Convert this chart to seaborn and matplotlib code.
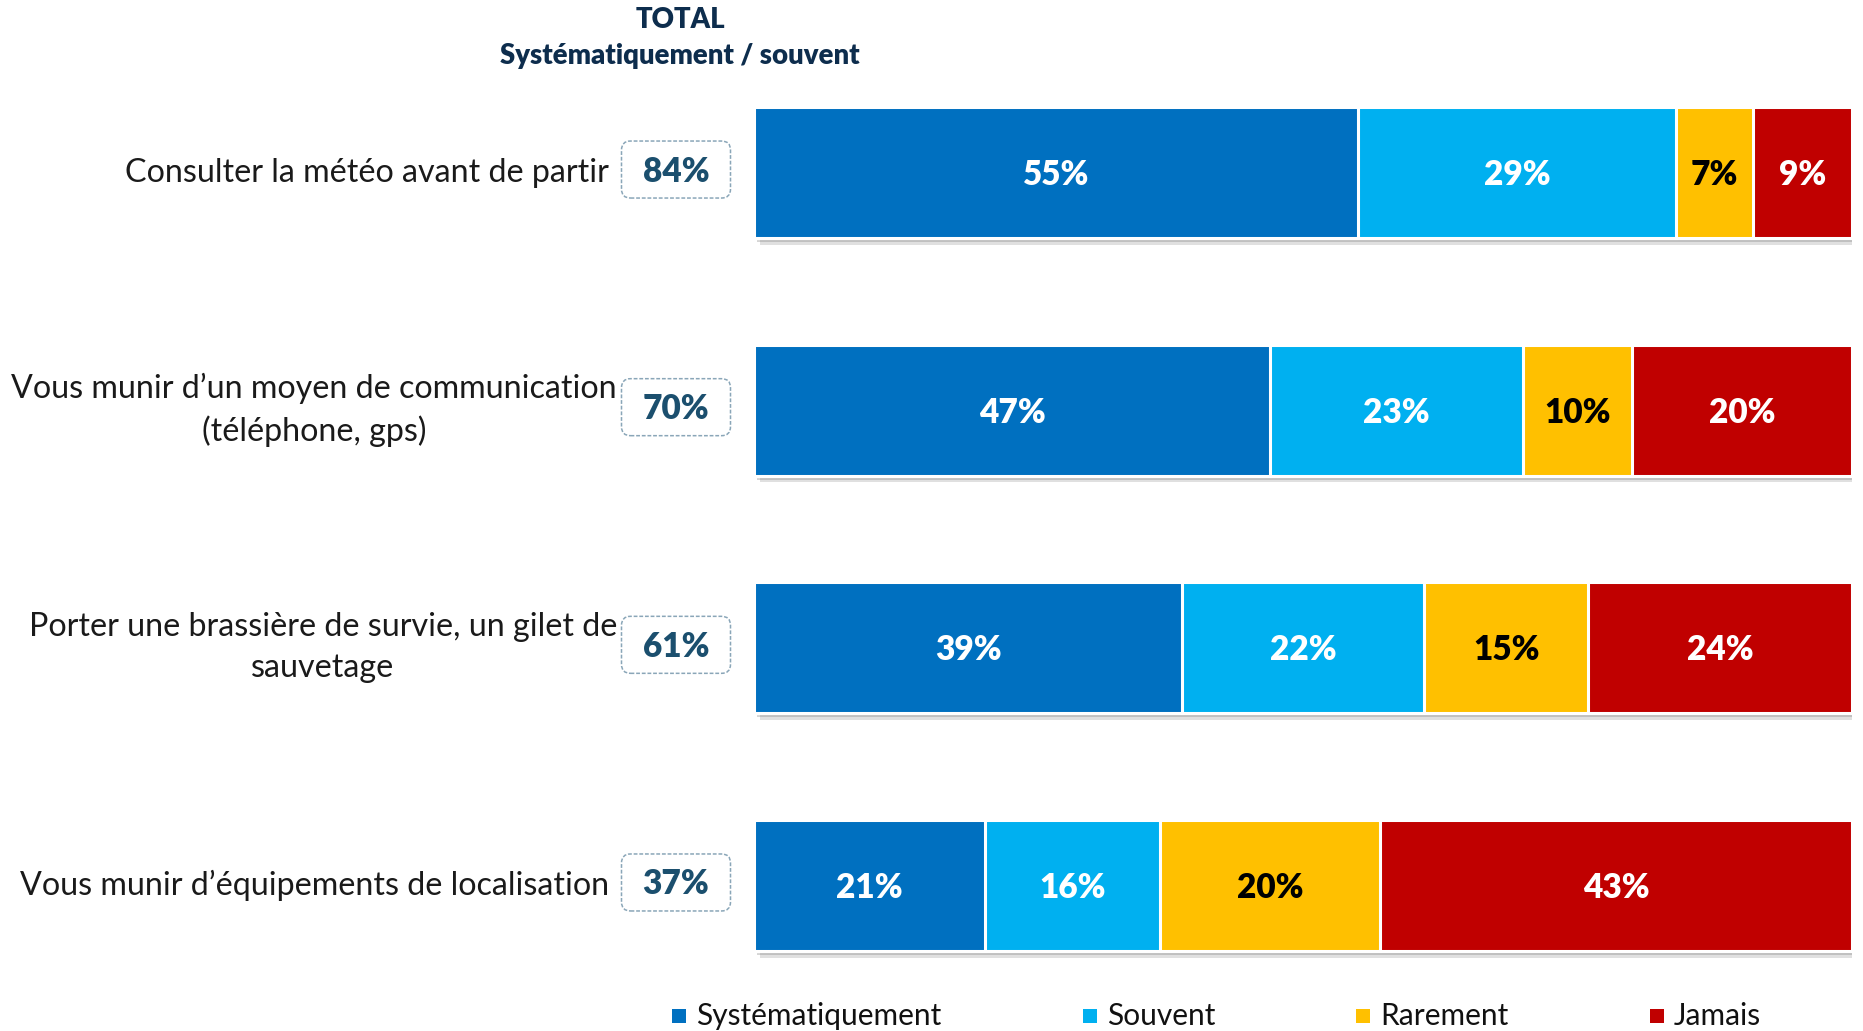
import matplotlib
matplotlib.use("Agg")
import matplotlib.pyplot as plt
import matplotlib.patheffects as pe
from matplotlib.patches import FancyBboxPatch, Rectangle
from matplotlib.transforms import blended_transform_factory, IdentityTransform
import seaborn as sns
import pandas as pd
import numpy as np

# ---- data ----
categories = [
    "Consulter la météo avant de partir",
    "Vous munir d’un moyen de communication\n(téléphone, gps)",
    "Porter une brassière de survie, un gilet de\nsauvetage",
    "Vous munir d’équipements de localisation",
]
series_names = ["Systématiquement", "Souvent", "Rarement", "Jamais"]
systematiquement = [55, 47, 39, 21]
souvent = [29, 23, 22, 16]
rarement = [7, 10, 15, 20]
jamais = [9, 20, 24, 43]
totals = ["84%", "70%", "61%", "37%"]

colors = ["#0070C0", "#00B0F0", "#FFC000", "#C00000"]
label_colors = ["white", "white", "black", "white"]

sns.set_theme(style="white")
plt.rcParams["font.family"] = ["Lato", "DejaVu Sans"]

W, H = 1863, 1031
fig = plt.figure(figsize=(W / 100, H / 100), dpi=100)
ax = fig.add_axes([754 / W, 0.0259, 1098 / W, 0.922])

series = [systematiquement, souvent, rarement, jamais]
cum = np.cumsum(np.array(series), axis=0)  # 4 x n

# draw from outermost cumulative to innermost
for k in range(3, -1, -1):
    df = pd.DataFrame({"cat": categories, "val": cum[k]})
    sns.barplot(data=df, y="cat", x="val", orient="h", color=colors[k],
                width=0.55, edgecolor="white", linewidth=2.2, ax=ax,
                saturation=1)
    if k == 3:
        for p in ax.patches:
            p.set_path_effects([
                pe.SimplePatchShadow(offset=(4, -5), shadow_rgbFace="#999999", alpha=0.3),
                pe.SimplePatchShadow(offset=(2, -3), shadow_rgbFace="#777777", alpha=0.3),
                pe.Normal()])

ax.set_xlim(0, 100)
ax.set_ylim(3.5, -0.5)
ax.axis("off")

# segment value labels
for k in range(4):
    starts = cum[k] - np.array(series[k])
    for i, v in enumerate(series[k]):
        ax.text(starts[i] + v / 2, i + 0.01, f"{v}%", ha="center", va="center",
                color=label_colors[k], fontsize=24, fontweight="heavy")

# category labels
trans = blended_transform_factory(fig.transFigure, ax.transData)
for i, c in enumerate(categories):
    xr = 617 / W if "\n" in c else 609 / W
    ax.text(xr, i, c, transform=trans, ha="right", va="center",
            multialignment="center", fontsize=23.2, color="#1a1a1a",
            linespacing=1.45)

# total boxes
fig.canvas.draw()
bw, bh = 109, 57
cx = 676
for i, t in enumerate(totals):
    _, cy = ax.transData.transform((0, i))
    box = FancyBboxPatch((cx - bw / 2, cy - bh / 2 + 3), bw, bh,
                         boxstyle="round,pad=0,rounding_size=9",
                         transform=IdentityTransform(), facecolor="white",
                         edgecolor="#8AA6B8", linestyle=(0, (2.5, 1.2)), linewidth=1.1)
    fig.add_artist(box)
    fig.text(cx / W, (cy + 1) / H, t, ha="center", va="center",
             fontsize=24, fontweight="heavy", color="#1B4F6E")

# header
fig.text(680 / W, 1 - 20 / H, "TOTAL", ha="center", va="center",
         fontsize=19.8, fontweight="heavy", color="#0D2D4D")
fig.text(680 / W, 1 - 56 / H, "Systématiquement / souvent", ha="center", va="center",
         fontsize=19.8, fontweight="heavy", color="#0D2D4D")

# legend
leg_x = [672, 1083, 1356, 1650]
ly = 1016
for name, col, x in zip(series_names, colors, leg_x):
    fig.add_artist(Rectangle((x, H - ly - 7), 14, 14, transform=IdentityTransform(),
                             facecolor=col, edgecolor="none"))
    fig.text((x + 24) / W, (H - ly) / H, name, ha="left", va="center",
             fontsize=21.5, color="#111111")

fig.savefig("out.png", dpi=100)
